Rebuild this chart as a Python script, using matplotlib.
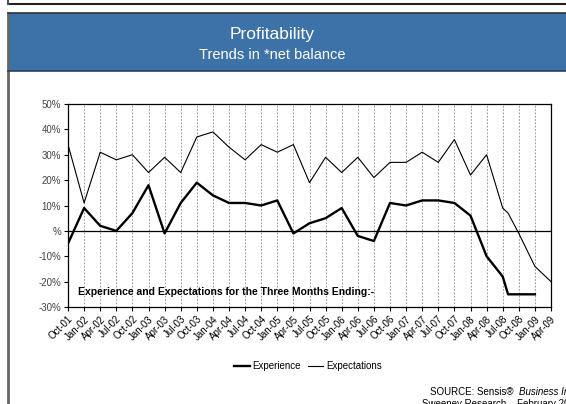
import matplotlib
matplotlib.use('Agg')
import matplotlib.pyplot as plt
from matplotlib.patches import Rectangle
from matplotlib.lines import Line2D

# quarterly tick labels shown on the x axis
tick_labels = ['Oct-01', 'Jan-02', 'Apr-02', 'Jul-02', 'Oct-02', 'Jan-03', 'Apr-03', 'Jul-03',
               'Oct-03', 'Jan-04', 'Apr-04', 'Jul-04', 'Oct-04', 'Jan-05', 'Apr-05', 'Jul-05',
               'Oct-05', 'Jan-06', 'Apr-06', 'Jul-06', 'Oct-06', 'Jan-07', 'Apr-07', 'Jul-07',
               'Oct-07', 'Jan-08', 'Apr-08', 'Jul-08', 'Oct-08', 'Jan-09', 'Apr-09']

# survey dates (one extra reading in Aug-08)
dates = tick_labels[:28] + ['Aug-08'] + tick_labels[28:]

# experience has no reading yet for Apr-09
experience = [-5, 9, 2, 0, 7, 18, -1, 11, 19, 14, 11, 11, 10, 12, -1, 3,
              5, 9, -2, -4, 11, 10, 12, 12, 11, 6, -10, -18, -25, -25, -25, float('nan')]
expectations = [34, 11, 31, 28, 30, 23, 29, 23, 37, 39, 33, 28, 34, 31, 34, 19,
                29, 23, 29, 21, 27, 27, 31, 27, 36, 22, 30, 9, 7, -1, -14, -20]

y_ticks = [-30, -20, -10, 0, 10, 20, 30, 40, 50]

MONTHS = ['Jan', 'Feb', 'Mar', 'Apr', 'May', 'Jun', 'Jul', 'Aug', 'Sep', 'Oct', 'Nov', 'Dec']


def month_index(label):
    # months since Oct-01
    mon, yr = label.split('-')
    return (int(yr) - 1) * 12 + MONTHS.index(mon) - 9


x_dates = [month_index(d) for d in dates]
x_ticks = [month_index(t) for t in tick_labels]

plt.rcParams['font.family'] = ['Liberation Sans', 'DejaVu Sans']

fig = plt.figure(figsize=(5.66, 4.04), dpi=100)
W, H = 566, 404


def fx(px):
    return px / W


def fy(py):
    return 1 - py / H


# top strip of the previous panel
fig.add_artist(Line2D([fx(8), 1], [fy(4), fy(4)], color='#222222', lw=1.5))
fig.add_artist(Line2D([fx(8), fx(8)], [1, fy(4)], color='#555555', lw=1.5))

# panel border and blue header
fig.add_artist(Line2D([fx(8), fx(8)], [fy(13), 0], color='#666666', lw=2))
fig.add_artist(Line2D([fx(8), 1], [fy(13), fy(13)], color='#333333', lw=1.2))
fig.add_artist(Rectangle((fx(8), fy(71)), 1 - fx(8), fy(13) - fy(71),
                         transform=fig.transFigure, facecolor='#3D72A8', edgecolor='none'))
fig.add_artist(Line2D([fx(8), 1], [fy(71), fy(71)], color='#2A3F55', lw=1.2))
fig.text(fx(272), fy(35), 'Profitability', color='white', fontsize=12.5,
         ha='center', va='center')
fig.text(fx(272), fy(55), 'Trends in *net balance', color='white', fontsize=10.5,
         ha='center', va='center')

ax = fig.add_axes([fx(68), fy(307), fx(551) - fx(68), fy(104) - fy(307)])

ax.plot(x_dates, experience, color='black', lw=1.7, label='Experience')
ax.plot(x_dates, expectations, color='black', lw=0.8, label='Expectations')
ax.axhline(0, color='black', lw=0.9)

ax.set_xlim(x_ticks[0], x_ticks[-1])
ax.set_ylim(-30, 50)
ax.set_yticks(y_ticks)
ax.set_yticklabels([('%d%%' % v) if v != 0 else '%' for v in y_ticks])
ax.set_xticks(x_ticks)
ax.set_xticklabels(tick_labels, rotation=45, ha='right', rotation_mode='anchor')
ax.tick_params(axis='both', labelsize=7, direction='out', length=3, width=0.8,
               colors='black', pad=2)
ax.tick_params(axis='y', labelcolor='#444444')
ax.grid(axis='x', color='#888888', ls=(0, (2, 2)), lw=0.6)
for s in ax.spines.values():
    s.set_linewidth(0.9)

ax.text(0.02, 0.075, 'Experience and Expectations for the Three Months Ending:-',
        transform=ax.transAxes, fontsize=7.5, fontweight='bold', ha='left', va='center')

fig.legend(loc='center', bbox_to_anchor=(fx(308), fy(366)), ncol=2, frameon=False,
           fontsize=7, handlelength=1.6, handletextpad=0.3, columnspacing=0.7)

# source note, running off the right edge as in the original page
src = fig.text(fx(430), fy(392), 'SOURCE: Sensis\u00ae ', fontsize=7, ha='left', va='center')
renderer = fig.canvas.get_renderer()
src_end = src.get_window_extent(renderer).x1
fig.text(src_end / W + 0.004, fy(392), 'Business Index', fontsize=7, style='italic',
         ha='left', va='center')
fig.text(fx(422), fy(404), 'Sweeney Research \u2013 February 2009', fontsize=7,
         ha='left', va='center')

fig.savefig('out.png', dpi=100)
